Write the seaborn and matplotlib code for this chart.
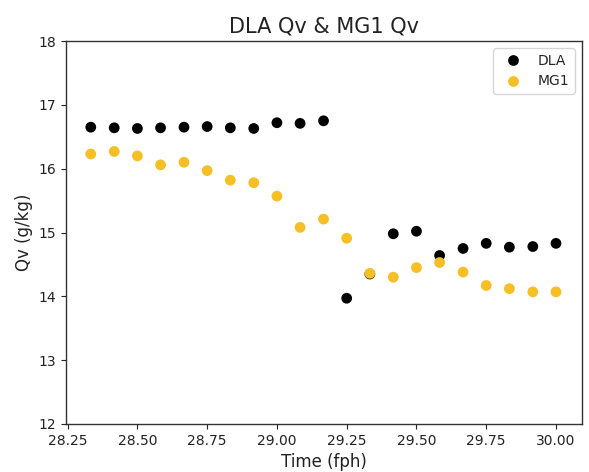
import numpy as np
import pandas as pd
import matplotlib
matplotlib.use("Agg")
import matplotlib.pyplot as plt
import seaborn as sns

time_fph = [28.333, 28.417, 28.5, 28.583, 28.667, 28.75, 28.833, 28.917, 29.0, 29.083, 29.167,
            29.25, 29.333, 29.417, 29.5, 29.583, 29.667, 29.75, 29.833, 29.917, 30.0]
dla_qv = [16.65, 16.64, 16.63, 16.64, 16.65, 16.66, 16.64, 16.63, 16.72, 16.71, 16.75,
          13.97, 14.35, 14.98, 15.02, 14.64, 14.75, 14.83, 14.77, 14.78, 14.83]
mg1_qv = [16.23, 16.27, 16.20, 16.06, 16.10, 15.97, 15.82, 15.78, 15.57, 15.08, 15.21,
          14.91, 14.36, 14.30, 14.45, 14.53, 14.38, 14.17, 14.12, 14.07, 14.07]
series_names = ["DLA", "MG1"]
series_colors = ["#000000", "#f6bf26"]
x_ticks = [28.25, 28.5, 28.75, 29.0, 29.25, 29.5, 29.75, 30.0]
x_tick_labels = ["28.25", "28.50", "28.75", "29.00", "29.25", "29.50", "29.75", "30.00"]

df = pd.DataFrame({
    "Time": time_fph * 2,
    "Qv": dla_qv + mg1_qv,
    "Source": [series_names[0]] * len(time_fph) + [series_names[1]] * len(time_fph),
})

sns.set_style("ticks")
plt.rcParams['font.family'] = ['DejaVu Sans']

fig = plt.figure(figsize=(5.89, 4.72), dpi=100)
ax = fig.add_axes([0.1115, 0.1017, 0.8765, 0.8114])
sns.scatterplot(data=df, x="Time", y="Qv", hue="Source", palette=series_colors,
                s=60, edgecolor="none", ax=ax)
ax.set_ylim(12, 18)
ax.set_xlim(28.243, 30.093)
ax.set_xticks(x_ticks)
ax.set_xticklabels(x_tick_labels)
ax.tick_params(labelsize=10, colors="#222222")
for sp in ax.spines.values():
    sp.set_color("#333333")
    sp.set_linewidth(1.0)
ax.set_xlabel("Time (fph)", fontsize=12, color="#222222")
ax.set_ylabel("Qv (g/kg)", fontsize=12, color="#222222")
ax.set_title("DLA Qv & MG1 Qv", fontsize=15, color="#222222")
leg = ax.legend(loc="upper right", fontsize=10, title=None)
fig.savefig("out.png", dpi=100)
